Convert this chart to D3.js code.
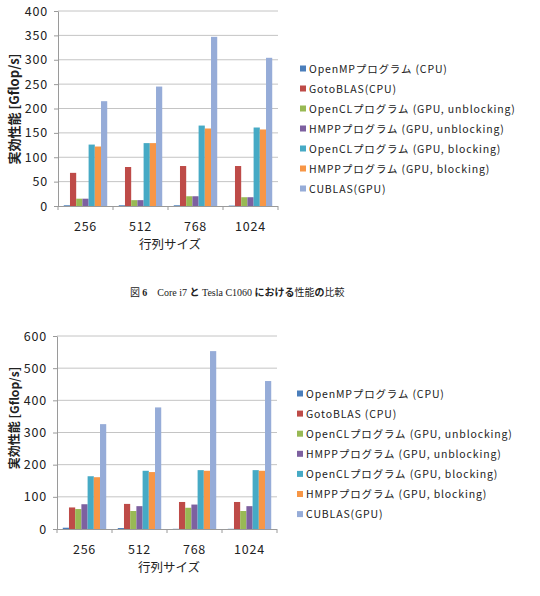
<!DOCTYPE html>
<html>
<head>
<meta charset="utf-8">
<script src="https://cdn.jsdelivr.net/npm/d3@7"></script>
<style>
  body { margin: 0; background: #fff; }
  svg { display: block; }
  .tick-label { font-family: "Noto Sans CJK JP", "Liberation Sans", sans-serif; fill: #222; }
</style>
</head>
<body>
<div id="chart"></div>
<script>
// categories (matrix size)
const categories = ['256', '512', '768', '1024'];

// series names
const seriesTop = [
    'OpenMPプログラム (CPU)',
    'GotoBLAS(CPU)',
    'OpenCLプログラム (GPU, unblocking)',
    'HMPPプログラム (GPU, unblocking)',
    'OpenCLプログラム (GPU, blocking)',
    'HMPPプログラム (GPU, blocking)',
    'CUBLAS(GPU)'
];
const seriesBottom = [
    'OpenMPプログラム (CPU)',
    'GotoBLAS (CPU)',
    'OpenCLプログラム (GPU, unblocking)',
    'HMPPプログラム (GPU, unblocking)',
    'OpenCLプログラム (GPU, blocking)',
    'HMPPプログラム (GPU, blocking)',
    'CUBLAS(GPU)'
];

// values, Gflop/s, one array per series (top chart: Core i7 / Tesla C1060)
const topOpenMP     = [1.5, 1.5, 1.5, 0.8];
const topGoto       = [68, 80, 82, 82];
const topOclUnblk   = [15, 12, 20, 18];
const topHmppUnblk  = [15, 12, 20, 18];
const topOclBlk     = [126, 129, 165, 161];
const topHmppBlk    = [122, 129, 159, 157];
const topCublas     = [215, 245, 347, 304];

// bottom chart
const botOpenMP     = [4, 3, 0.6, 0.6];
const botGoto       = [67, 78, 84, 84];
const botOclUnblk   = [62, 56, 66, 56];
const botHmppUnblk  = [77, 71, 76, 71];
const botOclBlk     = [164, 181, 183, 183];
const botHmppBlk    = [161, 177, 181, 181];
const botCublas     = [326, 378, 553, 460];

const topTicks = [0, 50, 100, 150, 200, 250, 300, 350, 400];
const botTicks = [0, 100, 200, 300, 400, 500, 600];

const colors = ['#4a7ebb', '#be4b48', '#98b954', '#7d60a0', '#46aac5', '#f79646', '#96acd8'];

const svg = d3.select('#chart')
    .append('svg')
    .attr('width', 540)
    .attr('height', 596);

svg.append('rect').attr('width', 540).attr('height', 596).attr('fill', '#fff');

function drawChart(cfg) {
    const g = svg.append('g');

    const x = d3.scaleBand()
        .domain(categories)
        .range([cfg.left, cfg.right])
        .paddingInner(0.21)
        .paddingOuter(0.105);
    const xs = d3.scaleBand()
        .domain(d3.range(cfg.values.length))
        .range([0, x.bandwidth()]);
    const y = d3.scaleLinear()
        .domain([0, cfg.ticks[cfg.ticks.length - 1]])
        .range([cfg.bottom, cfg.top]);

    // gridlines
    g.append('g')
        .selectAll('line')
        .data(cfg.ticks.slice(1))
        .join('line')
        .attr('x1', cfg.left)
        .attr('x2', cfg.right)
        .attr('y1', d => y(d))
        .attr('y2', d => y(d))
        .attr('stroke', '#c4c4c4')
        .attr('stroke-width', 1);

    // y axis
    const yAxis = g.append('g')
        .attr('transform', `translate(${cfg.left},0)`)
        .call(d3.axisLeft(y).tickValues(cfg.ticks).tickSize(4).tickPadding(6).tickSizeOuter(0));
    yAxis.select('.domain').attr('stroke', '#9a9a9a');
    yAxis.selectAll('.tick line').attr('stroke', '#9a9a9a');
    yAxis.selectAll('.tick text')
        .attr('class', 'tick-label')
        .style('font-size', '12.5px')
        .style('letter-spacing', '0.8px')
        .attr('fill', '#222');

    // bars
    cfg.values.forEach((vals, si) => {
        g.append('g')
            .attr('fill', colors[si])
            .selectAll('rect')
            .data(vals)
            .join('rect')
            .attr('x', (d, i) => x(categories[i]) + xs(si))
            .attr('y', d => y(d))
            .attr('width', xs.bandwidth())
            .attr('height', d => y(0) - y(d));
    });

    // x axis
    const step = x.step();
    const xBounds = d3.range(categories.length + 1).map(i => cfg.left + i * step);
    g.append('line')
        .attr('x1', cfg.left).attr('x2', cfg.right)
        .attr('y1', y(0) + 0.5).attr('y2', y(0) + 0.5)
        .attr('stroke', '#9a9a9a');
    g.append('g')
        .selectAll('line')
        .data(xBounds)
        .join('line')
        .attr('x1', d => d).attr('x2', d => d)
        .attr('y1', y(0)).attr('y2', y(0) + 4)
        .attr('stroke', '#9a9a9a');
    g.append('g')
        .selectAll('text')
        .data(categories)
        .join('text')
        .attr('class', 'tick-label')
        .attr('x', d => x(d) + x.bandwidth() / 2)
        .attr('y', y(0) + 24.5)
        .attr('text-anchor', 'middle')
        .style('font-size', '12.5px')
        .style('letter-spacing', '0.8px')
        .text(d => d);

    // axis titles
    g.append('text')
        .attr('class', 'tick-label')
        .attr('x', (cfg.left + cfg.right) / 2 + 2)
        .attr('y', y(0) + 43)
        .attr('text-anchor', 'middle')
        .style('font-size', '12.5px')
        .text('行列サイズ');
    g.append('text')
        .attr('class', 'tick-label')
        .attr('transform', `translate(19,${cfg.titleY}) rotate(-90)`)
        .attr('text-anchor', 'middle')
        .style('font-size', cfg.titleSize + 'px')
        .style('font-weight', 'bold')
        .text('実効性能 [Gflop/s]');

    // legend
    const leg = g.append('g');
    cfg.names.forEach((name, i) => {
        const cy = cfg.legendTop + i * cfg.legendStep;
        leg.append('rect')
            .attr('x', cfg.legendX)
            .attr('y', cy - 3)
            .attr('width', 6)
            .attr('height', 6)
            .attr('fill', colors[i]);
        leg.append('text')
            .attr('class', 'tick-label')
            .attr('x', cfg.legendX + 9)
            .attr('y', cy + 4)
            .style('font-size', '10.5px')
            .style('letter-spacing', '0.85px')
            .text(name);
    });
}

drawChart({
    values: [topOpenMP, topGoto, topOclUnblk, topHmppUnblk, topOclBlk, topHmppBlk, topCublas],
    names: seriesTop,
    ticks: topTicks,
    left: 58, right: 278, top: 11, bottom: 206,
    titleY: 109, titleSize: 13,
    legendX: 300, legendTop: 68.5, legendStep: 20
});

drawChart({
    values: [botOpenMP, botGoto, botOclUnblk, botHmppUnblk, botOclBlk, botHmppBlk, botCublas],
    names: seriesBottom,
    ticks: botTicks,
    left: 57, right: 277, top: 336, bottom: 529,
    titleY: 418, titleSize: 12,
    legendX: 297, legendTop: 393.5, legendStep: 20.1
});

// caption between the charts
const cap = svg.append('text')
    .attr('x', 130)
    .attr('y', 296)
    .style('font-size', '10px')
    .attr('fill', '#222');
const serif = '"Liberation Serif", "DejaVu Serif", serif';
const cjk = '"Noto Sans CJK JP", sans-serif';
[
    ['図 ', cjk, 'normal'],
    ['6', serif, 'bold'],
    ['\u2003Core i7 ', serif, 'normal'],
    ['と', cjk, 'bold'],
    [' Tesla C1060 ', serif, 'normal'],
    ['における', cjk, 'bold'],
    ['性能', cjk, 'normal'],
    ['の', cjk, 'bold'],
    ['比較', cjk, 'normal']
].forEach(([t, f, w]) => {
    cap.append('tspan')
        .style('font-family', f)
        .style('font-weight', w)
        .text(t);
});
</script>
</body>
</html>
